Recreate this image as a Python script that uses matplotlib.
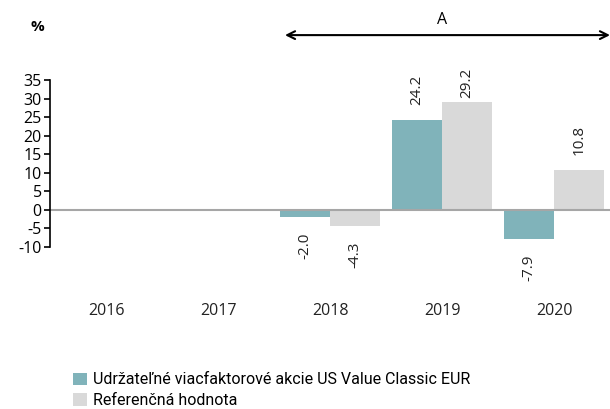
import numpy as np
import matplotlib.pyplot as plt

years = ["2016", "2017", "2018", "2019", "2020"]
fund = [np.nan, np.nan, -2.0, 24.2, -7.9]
bench = [np.nan, np.nan, -4.3, 29.2, 10.8]
fund_name = "Udržateľné viacfaktorové akcie US Value Classic EUR"
bench_name = "Referenčná hodnota"

TEAL = "#80b3ba"
GREY = "#d9d9d9"

plt.rcParams["font.family"] = ["Open Sans", "DejaVu Sans"]
plt.rcParams["axes.unicode_minus"] = False

fig = plt.figure(figsize=(6.1, 4.09), dpi=100)
ax = fig.add_axes([0.082, 0.396, 0.918, 0.408])

x = np.arange(len(years))
w = 0.446
b1 = ax.bar(x - w / 2, fund, w, color=TEAL, label=fund_name)
b2 = ax.bar(x + w / 2, bench, w, color=GREY, label=bench_name)

# value labels, rotated
for bars, vals in [(b1, fund), (b2, bench)]:
    for rect, v in zip(bars, vals):
        if np.isnan(v):
            continue
        cx = rect.get_x() + rect.get_width() / 2
        off = 11 if v > 0 else -11
        if v > 28:
            off = 3
        ax.annotate(f"{v:.1f}", (cx, v), xytext=(0, off), textcoords="offset points",
                    rotation=90, ha="center", va="bottom" if v > 0 else "top",
                    fontsize=11, color="#222222")

ax.axhline(0, color="#a6a6a6", lw=1.5)
ax.set_xlim(-0.5, 4.5)
ax.set_ylim(-10, 35)
ax.set_yticks(range(-10, 40, 5))
ax.set_xticks(x)
ax.set_xticklabels(years)
ax.tick_params(axis="x", length=0, pad=40, labelsize=11.5, colors="#222222")
ax.tick_params(axis="y", direction="out", length=4, width=1.2, labelsize=11.5, pad=2)
for s in ["top", "right", "bottom"]:
    ax.spines[s].set_visible(False)
ax.spines["left"].set_linewidth(1.2)

# period arrow
ax.annotate("", xy=(4.5, 1.27), xytext=(1.598, 1.27),
            xycoords=ax.get_xaxis_transform(), textcoords=ax.get_xaxis_transform(),
            arrowprops=dict(arrowstyle="<->", color="black", lw=1.5,
                            shrinkA=0, shrinkB=0, mutation_scale=14),
            annotation_clip=False)
ax.text(3.0, 1.31, "A", transform=ax.get_xaxis_transform(), ha="center", va="bottom",
        fontsize=11.5)

fig.text(0.062, 0.934, "%", ha="center", va="center", fontsize=11, fontweight="bold")

fig.legend(handles=[b1, b2], loc="upper left", bbox_to_anchor=(0.11, 0.105),
           frameon=False, handlelength=0.85, handleheight=0.85,
           handletextpad=0.4, labelspacing=0.35, borderaxespad=0,
           prop={"family": "Roboto", "size": 11.5})

fig.savefig("out.png", dpi=100)
